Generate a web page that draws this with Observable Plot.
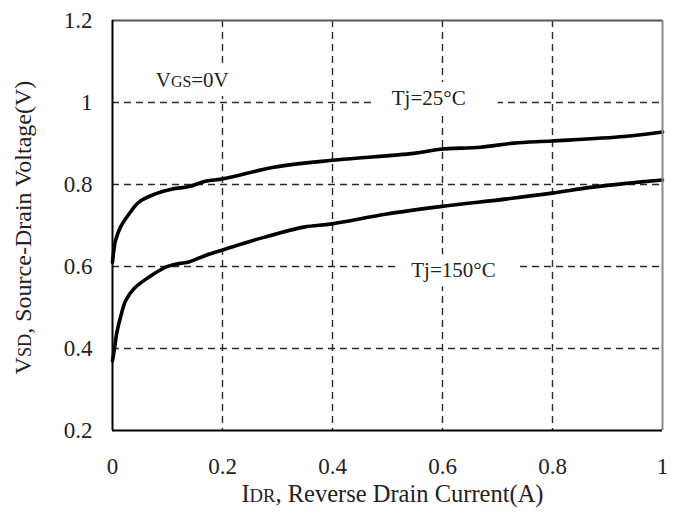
<!DOCTYPE html>
<html><head><meta charset="utf-8">
<script src="https://cdn.jsdelivr.net/npm/d3@7"></script>
<script src="https://cdn.jsdelivr.net/npm/@observablehq/plot@0.6"></script>
<style>
body{margin:0;background:#fff}
svg{font-family:"Liberation Serif","Times New Roman",serif}
</style>
</head><body><div id="chart"></div>
<script>
// Tj = 25°C curve
const current25 = [0, 0.0055, 0.0145, 0.030, 0.048, 0.078, 0.109, 0.139, 0.169, 0.202, 0.293, 0.399, 0.548, 0.596, 0.669, 0.730, 0.799, 0.930, 1.0];
const voltage25 = [0.61, 0.663, 0.696, 0.728, 0.757, 0.777, 0.789, 0.795, 0.808, 0.814, 0.842, 0.859, 0.876, 0.886, 0.891, 0.901, 0.906, 0.917, 0.928];
// Tj = 150°C curve
const current150 = [0, 0.004, 0.0075, 0.0145, 0.024, 0.039, 0.066, 0.096, 0.121, 0.139, 0.169, 0.202, 0.275, 0.348, 0.399, 0.499, 0.596, 0.718, 0.799, 0.869, 0.936, 1.0];
const voltage150 = [0.37, 0.403, 0.436, 0.476, 0.517, 0.546, 0.574, 0.598, 0.607, 0.611, 0.627, 0.641, 0.671, 0.696, 0.704, 0.728, 0.746, 0.765, 0.779, 0.793, 0.803, 0.811];

const xTicks = [0, 0.2, 0.4, 0.6, 0.8, 1];
const xTickLabels = ["0", "0.2", "0.4", "0.6", "0.8", "1"];
const yTicks = [0.2, 0.4, 0.6, 0.8, 1, 1.2];
const yTickLabels = ["0.2", "0.4", "0.6", "0.8", "1", "1.2"];
const gridX = [0.2, 0.4, 0.6, 0.8];
const gridY = [0.4, 0.6, 0.8, 1.0];

// annotation texts: parts [text, smallCaps]
const annotParts = [[["V",0],["GS",1],["=0V",0]], [["Tj=25°C",0]], [["Tj=150°C",0]]];
const annotX = [0.145, 0.575, 0.62];
const annotY = [1.054, 1.01, 0.59];
const xLabelParts = [["I",0],["DR",1],[", Reverse Drain Current(A)",0]];
const yLabelParts = [["V",0],["SD",1],[", Source-Drain Voltage(V)",0]];

const joinParts = (p) => p.map(d => d[0]).join("");
const curves = [
  ...current25.map((c, i) => ({I: c, V: voltage25[i], s: "25"})),
  ...current150.map((c, i) => ({I: c, V: voltage150[i], s: "150"}))
];
const annots = annotParts.map((p, i) => ({x: annotX[i], y: annotY[i], t: joinParts(p)}));

const dash = {stroke: "#2a2a2a", strokeWidth: 1.4, strokeDasharray: "7,5"};

const plot = Plot.plot({
  width: 677, height: 518,
  marginLeft: 112, marginRight: 15, marginTop: 20, marginBottom: 88,
  style: {fontSize: "23px", fontFamily: "'Liberation Serif','Times New Roman',serif", color: "#222", background: "#fff"},
  x: {domain: [0, 1], ticks: xTicks, tickFormat: (d) => xTickLabels[xTicks.indexOf(d)], tickSize: 0, tickPadding: 27, label: null},
  y: {domain: [0.2, 1.2], ticks: yTicks, tickFormat: (d) => yTickLabels[yTicks.findIndex(t => Math.abs(t - d) < 1e-9)], tickSize: 0, tickPadding: 20, label: null},
  marks: [
    Plot.ruleX(gridX, dash),
    Plot.ruleY(gridY, dash),
    Plot.line(curves, {x: "I", y: "V", z: "s", stroke: "#000", strokeWidth: 3.6, curve: "catmull-rom"}),
    Plot.text(annots, {x: "x", y: "y", text: "t", fontSize: 21, fill: "#222"}),
    Plot.text([joinParts(xLabelParts)], {x: [0.509], frameAnchor: "bottom", textAnchor: "middle", lineAnchor: "middle", dy: 64, text: (d) => d, fontSize: 24.5, fill: "#222"}),
    Plot.text([joinParts(yLabelParts)], {y: [0.695], frameAnchor: "left", textAnchor: "middle", lineAnchor: "middle", dx: -89, rotate: -90, text: (d) => d, fontSize: 24, fill: "#222"}),
    Plot.ruleX([xTicks[xTicks.length - 1]], {stroke: "#888", strokeWidth: 2}),
    Plot.ruleY([yTicks[yTicks.length - 1]], {stroke: "#555", strokeWidth: 2}),
    Plot.ruleX([xTicks[0]], {stroke: "#000", strokeWidth: 2}),
    Plot.ruleY([yTicks[0]], {stroke: "#000", strokeWidth: 2})
  ]
});
document.getElementById("chart").appendChild(plot);

const allTexts = Array.from(plot.querySelectorAll("text"));
function findText(str) { return allTexts.find(t => t.textContent === str); }
function richify(parts) {
  const el = findText(joinParts(parts));
  if (!el) return null;
  while (el.firstChild) el.removeChild(el.firstChild);
  parts.forEach(([s, sc]) => {
    const sp = document.createElementNS("http://www.w3.org/2000/svg", "tspan");
    sp.textContent = s;
    if (sc) sp.setAttribute("font-size", "0.76em");
    el.appendChild(sp);
  });
  return el;
}

// white boxes behind annotations (as in the original, they mask the grid)
const pads = [[6, 6, 8], [16, 32, 8], [12, 22, 8]]; // left, right, vertical
annotParts.forEach((parts, i) => {
  const el = richify(parts);
  if (!el) return;
  const b = el.getBBox();
  const [pl, pr, pv] = pads[i];
  const r = document.createElementNS("http://www.w3.org/2000/svg", "rect");
  r.setAttribute("x", b.x - pl);
  r.setAttribute("y", b.y - pv / 2);
  r.setAttribute("width", b.width + pl + pr);
  r.setAttribute("height", b.height + pv);
  r.setAttribute("fill", "#fff");
  const tr = el.getAttribute("transform");
  if (tr) r.setAttribute("transform", tr);
  el.parentNode.insertBefore(r, el);
});
richify(xLabelParts);
richify(yLabelParts);
</script>
</body></html>
